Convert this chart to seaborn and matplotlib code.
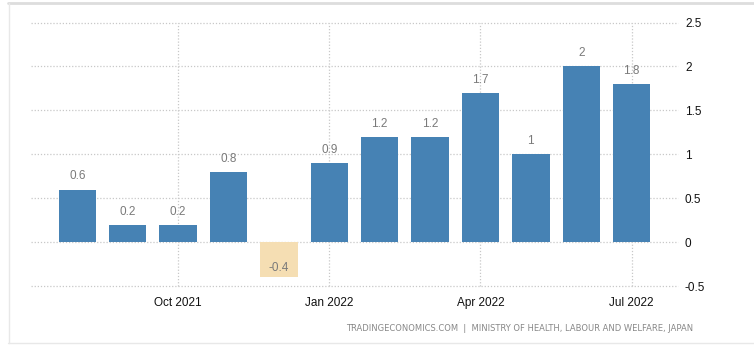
import matplotlib
matplotlib.use("Agg")
import matplotlib.pyplot as plt
import seaborn as sns
import pandas as pd
from matplotlib.lines import Line2D

months = ["Aug 2021", "Sep 2021", "Oct 2021", "Nov 2021", "Dec 2021", "Jan 2022",
          "Feb 2022", "Mar 2022", "Apr 2022", "May 2022", "Jun 2022", "Jul 2022"]
values = [0.6, 0.2, 0.2, 0.8, -0.4, 0.9, 1.2, 1.2, 1.7, 1.0, 2.0, 1.8]
value_labels = ["0.6", "0.2", "0.2", "0.8", "-0.4", "0.9", "1.2", "1.2", "1.7", "1", "2", "1.8"]
tick_months = ["Oct 2021", "Jan 2022", "Apr 2022", "Jul 2022"]
y_ticks = [-0.5, 0, 0.5, 1, 1.5, 2, 2.5]
y_tick_labels = ["-0.5", "0", "0.5", "1", "1.5", "2", "2.5"]
source = "TRADINGECONOMICS.COM  |  MINISTRY OF HEALTH, LABOUR AND WELFARE, JAPAN"

POS = "#4682B4"
NEG = "#F5DEB3"

sns.set_theme(style="white")
plt.rcParams["font.family"] = ["Liberation Sans", "DejaVu Sans"]

df = pd.DataFrame({"month": months, "value": values})
colors = [POS if v >= 0 else NEG for v in values]

fig = plt.figure(figsize=(7.54, 3.49), dpi=100)
ax = fig.add_axes([0.0411, 0.1797, 0.8581, 0.7558])

sns.barplot(data=df, x="month", y="value", hue="month", palette=colors,
            legend=False, width=0.74, saturation=1, linewidth=0,
            edgecolor="none", ax=ax, zorder=3)

ax.set_xlim(-0.92, len(months) - 1 + 0.92)
ax.set_ylim(-0.5, 2.5)

ax.yaxis.tick_right()
ax.set_yticks(y_ticks)
ax.set_yticklabels(y_tick_labels)
tick_pos = [months.index(m) for m in tick_months]
ax.set_xticks(tick_pos)
ax.set_xticklabels(tick_months)
ax.tick_params(axis="y", length=0, pad=5, labelsize=8.5, labelcolor="#111111")
ax.tick_params(axis="x", length=5, width=0.8, color="#cccccc", pad=3,
               labelsize=8.5, labelcolor="#111111")

ax.grid(True, axis="both", linestyle=(0, (1, 1.5)), color="#c8c8c8", linewidth=0.9, zorder=0)
ax.set_axisbelow(True)
for gl in ax.get_xgridlines() + ax.get_ygridlines():
    gl.set_clip_on(False)
for s in ax.spines.values():
    s.set_visible(False)
ax.set_xlabel("")
ax.set_ylabel("")

for i, (v, lab) in enumerate(zip(values, value_labels)):
    if v >= 0:
        ax.annotate(lab, (i, v), xytext=(0, 9.5), textcoords="offset points",
                    ha="center", va="center", fontsize=8.5, color="#7a7a7a")
    else:
        ax.annotate(lab, (i, v), xytext=(0, 6.5), textcoords="offset points",
                    ha="center", va="center", fontsize=8.5, color="#7a7a7a")

fig.text(0.919, 0.060, source, ha="right", va="center", fontsize=6,
         color="#888888", family=["DejaVu Sans"])

# outer frame lines
fig.add_artist(Line2D([8/754, 1], [1 - 2.5/349, 1 - 2.5/349], color="#dddddd", lw=2, transform=fig.transFigure))
fig.add_artist(Line2D([8.5/754, 8.5/754], [1 - 2.5/349, 1 - 343/349], color="#e8e8e8", lw=1, transform=fig.transFigure))
fig.add_artist(Line2D([8/754, 1], [1 - 343/349, 1 - 343/349], color="#e8e8e8", lw=1, transform=fig.transFigure))

fig.savefig("out.png", dpi=100)
